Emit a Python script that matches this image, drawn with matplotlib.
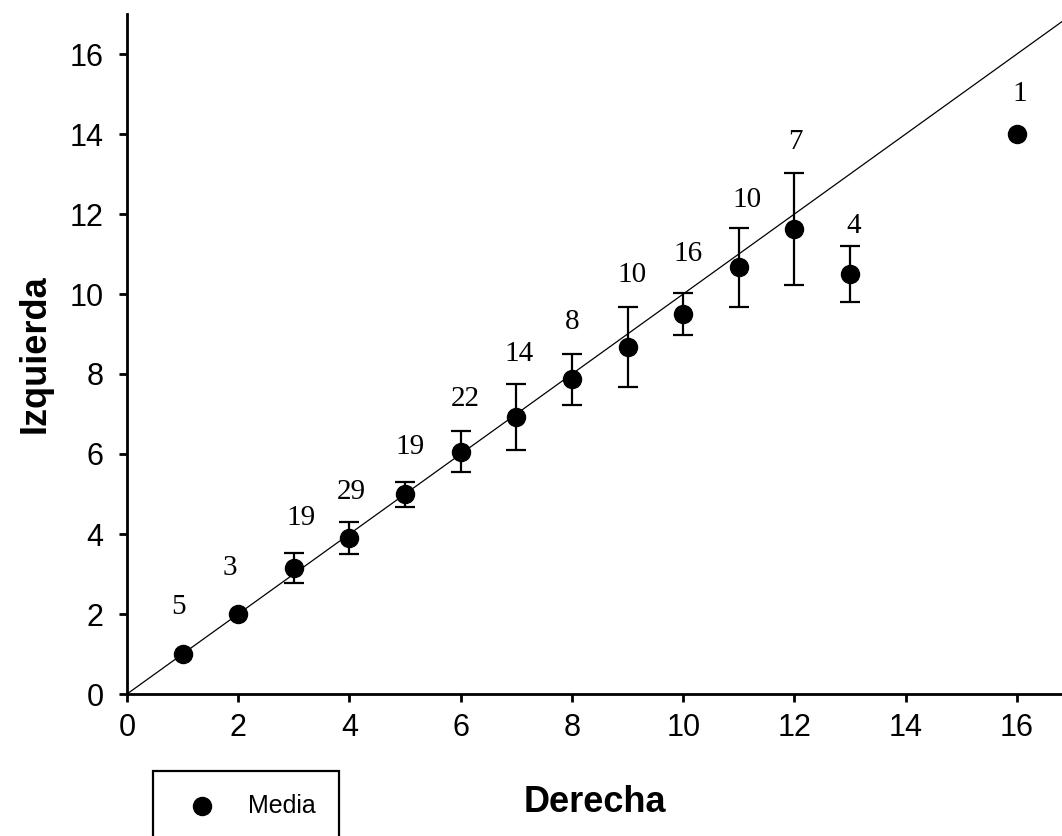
import numpy as np
import matplotlib
matplotlib.use('Agg')
from matplotlib import pyplot as plt
from matplotlib.patches import Rectangle

# datos
derecha = [1, 2, 3, 4, 5, 6, 7, 8, 9, 10, 11, 12, 13, 16]
media = [1.0, 2.0, 3.15, 3.9, 5.0, 6.05, 6.93, 7.87, 8.67, 9.5, 10.67, 11.62, 10.5, 14.0]
err_low = [1.0, 2.0, 2.78, 3.5, 4.68, 5.55, 6.1, 7.23, 7.67, 8.98, 9.67, 10.22, 9.8, 14.0]
err_high = [1.0, 2.0, 3.52, 4.3, 5.3, 6.58, 7.75, 8.5, 9.67, 10.02, 11.66, 13.03, 11.2, 14.0]
n_casos = ['5', '3', '19', '29', '19', '22', '14', '8', '10', '16', '10', '7', '4', '1']
label_x = [0.92, 1.85, 3.13, 4.04, 5.09, 6.08, 7.05, 8.0, 9.08, 10.09, 11.15, 12.01, 13.07, 16.05]
label_y = [2.18, 3.15, 4.4, 5.05, 6.18, 7.38, 8.5, 9.3, 10.48, 11.0, 12.35, 13.8, 11.7, 15.0]

x = np.array(derecha)
y = np.array(media)
yerr = np.array([y - np.array(err_low), np.array(err_high) - y])

fig = plt.figure(figsize=(10.62, 8.36), dpi=100)
ax = fig.add_axes([127 / 1062, 1 - 694 / 836, 1 - 127 / 1062, (694 - 14) / 836])

ax.plot([0, 17.5], [0, 17.5], color='black', lw=0.9, zorder=1)

has_err = (yerr.sum(axis=0) > 0)
ax.errorbar(x[has_err], y[has_err], yerr=yerr[:, has_err], fmt='none', ecolor='black',
            elinewidth=1.6, capsize=7.5, capthick=1.6, zorder=2)
ax.plot(x, y, 'o', color='black', ms=13, zorder=3)

for lx, ly, t in zip(label_x, label_y, n_casos):
    ax.text(lx, ly, t, ha='center', va='center', fontsize=21, family='Liberation Serif')

ax.set_xlim(0, 16.81)
ax.set_ylim(0, 17.0)
ax.set_xticks(np.arange(0, 17, 2))
ax.set_yticks(np.arange(0, 17, 2))
for s in ['top', 'right']:
    ax.spines[s].set_visible(False)
for s in ['left', 'bottom']:
    ax.spines[s].set_linewidth(2)
ax.tick_params(direction='out', length=6, width=2, labelsize=22)
ax.tick_params(axis='y', pad=11)
ax.tick_params(axis='x', pad=8)
for lab in ax.get_xticklabels() + ax.get_yticklabels():
    lab.set_family('Liberation Sans')

ax.set_xlabel('Derecha', fontsize=26, fontweight='bold', family='Liberation Sans', labelpad=30)
ax.set_ylabel('Izquierda', fontsize=26, fontweight='bold', family='Liberation Sans', labelpad=12)

# leyenda
fig.patches.append(Rectangle((153 / 1062, -0.05), (339 - 153) / 1062, (836 - 771) / 836 + 0.05,
                             transform=fig.transFigure, fill=False, edgecolor='black', lw=1.6))
fig.lines.append(plt.Line2D([202 / 1062], [1 - 806 / 836], marker='o', color='black', ms=13,
                            transform=fig.transFigure))
fig.text(248 / 1062, 1 - 806 / 836, 'Media', fontsize=18, family='Liberation Sans', va='center')

fig.savefig('out.png', dpi=100)
